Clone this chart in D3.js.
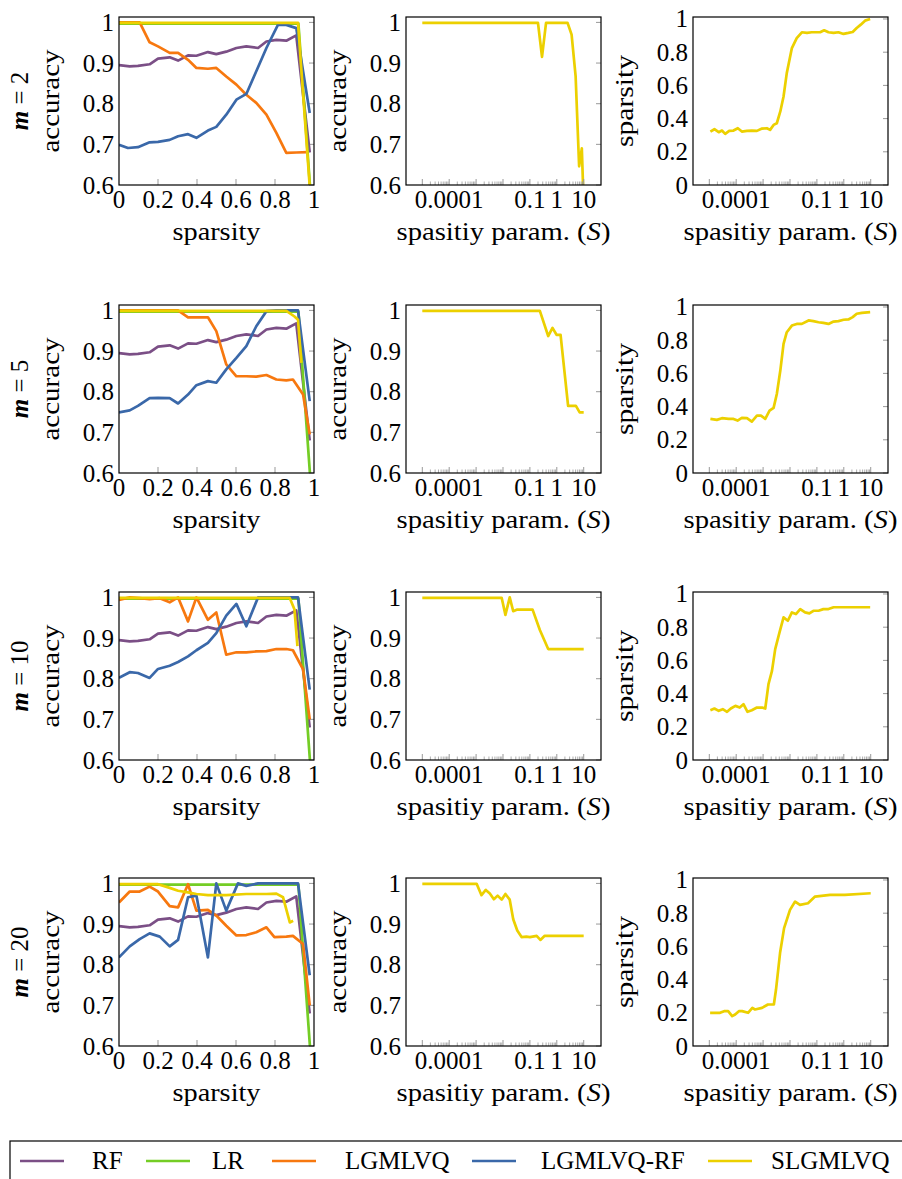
<!DOCTYPE html>
<html>
<head>
<meta charset="utf-8">
<script src="https://cdn.jsdelivr.net/npm/d3@7"></script>
<style>
  body { margin: 0; background: #fff; }
</style>
</head>
<body>
<div id="chart"></div>
<script>
// ---------------- data ----------------
const models = ["RF", "LR", "LGMLVQ", "LGMLVQ-RF", "SLGMLVQ"]
const colors = ["#7b4f86", "#74cd25", "#f7780f", "#3a68a9", "#ecd000"]
const mValues = [2, 5, 10, 20]

const accTicks = [0.6, 0.7, 0.8, 0.9, 1]
const accTickLabels = ["0.6", "0.7", "0.8", "0.9", "1"]
const spTicks = [0, 0.2, 0.4, 0.6, 0.8, 1]
const spTickLabels = ["0", "0.2", "0.4", "0.6", "0.8", "1"]
const sTicks = [0.0001, 0.1, 1, 10]
const sTickLabels = ["0.0001", "0.1", "1", "10"]

// left column: accuracy vs sparsity  (RF and LR identical in every row)
const rfSp  = [0, 0.055, 0.097, 0.157, 0.2, 0.26, 0.303, 0.354, 0.397, 0.456, 0.499, 0.55, 0.602, 0.653, 0.713, 0.756, 0.807, 0.858, 0.909, 0.978]
const rfAcc = [0.895, 0.892, 0.893, 0.897, 0.911, 0.914, 0.906, 0.919, 0.918, 0.927, 0.922, 0.928, 0.937, 0.941, 0.937, 0.953, 0.957, 0.955, 0.968, 0.68]
const lrSp  = [0, 0.92, 0.985]
const lrAcc = [0.997, 0.997, 0.56]

const lgmlvqSp = [
  [0, 0.106, 0.157, 0.2, 0.26, 0.303, 0.354, 0.397, 0.456, 0.499, 0.55, 0.602, 0.653, 0.704, 0.756, 0.807, 0.858, 0.909, 0.969],
  [0, 0.303, 0.354, 0.456, 0.499, 0.55, 0.602, 0.653, 0.704, 0.756, 0.807, 0.858, 0.892, 0.944, 0.978],
  [0, 0.055, 0.106, 0.157, 0.209, 0.26, 0.303, 0.354, 0.397, 0.456, 0.499, 0.55, 0.602, 0.653, 0.704, 0.756, 0.807, 0.858, 0.892, 0.944, 0.978],
  [0, 0.055, 0.106, 0.157, 0.2, 0.26, 0.303, 0.354, 0.397, 0.456, 0.499, 0.55, 0.602, 0.653, 0.704, 0.756, 0.797, 0.858, 0.892, 0.944, 0.978]
]
const lgmlvqAcc = [
  [1.0, 1.0, 0.951, 0.941, 0.925, 0.925, 0.908, 0.888, 0.886, 0.888, 0.867, 0.847, 0.822, 0.802, 0.773, 0.728, 0.679, 0.68, 0.681],
  [1.0, 1.0, 0.983, 0.983, 0.949, 0.867, 0.838, 0.838, 0.837, 0.841, 0.83, 0.828, 0.83, 0.793, 0.695],
  [0.994, 1.0, 0.998, 0.996, 0.998, 0.988, 1.0, 0.941, 1.0, 0.945, 0.963, 0.859, 0.865, 0.865, 0.867, 0.868, 0.873, 0.873, 0.87, 0.823, 0.70],
  [0.953, 0.98, 0.98, 0.992, 0.98, 0.944, 0.941, 0.998, 0.933, 0.935, 0.921, 0.896, 0.872, 0.873, 0.88, 0.892, 0.868, 0.869, 0.871, 0.851, 0.70]
]
const lgmlvqRfSp = [
  [0, 0.046, 0.097, 0.157, 0.2, 0.26, 0.303, 0.354, 0.397, 0.456, 0.499, 0.55, 0.602, 0.653, 0.704, 0.756, 0.815, 0.858, 0.909, 0.978],
  [0, 0.055, 0.097, 0.157, 0.2, 0.26, 0.303, 0.354, 0.397, 0.456, 0.499, 0.55, 0.602, 0.653, 0.704, 0.756, 0.807, 0.918, 0.978],
  [0, 0.055, 0.097, 0.157, 0.2, 0.26, 0.303, 0.354, 0.397, 0.456, 0.499, 0.55, 0.602, 0.653, 0.713, 0.918, 0.978],
  [0, 0.055, 0.106, 0.157, 0.209, 0.26, 0.303, 0.354, 0.397, 0.456, 0.499, 0.55, 0.61, 0.653, 0.713, 0.918, 0.978]
]
const lgmlvqRfAcc = [
  [0.699, 0.691, 0.693, 0.705, 0.706, 0.711, 0.72, 0.725, 0.716, 0.734, 0.743, 0.773, 0.81, 0.824, 0.88, 0.937, 0.994, 0.994, 0.986, 0.777],
  [0.749, 0.754, 0.765, 0.784, 0.785, 0.784, 0.771, 0.793, 0.816, 0.826, 0.822, 0.855, 0.883, 0.912, 0.961, 0.998, 1.0, 1.0, 0.777],
  [0.802, 0.816, 0.814, 0.802, 0.824, 0.832, 0.841, 0.855, 0.87, 0.888, 0.912, 0.955, 0.984, 0.929, 1.0, 1.0, 0.773],
  [0.818, 0.845, 0.863, 0.877, 0.869, 0.845, 0.861, 0.966, 0.97, 0.818, 1.0, 0.933, 1.0, 0.994, 1.0, 1.0, 0.774]
]
const slgmlvqSp = [
  [0, 0.918, 0.985],
  [0, 0.858, 0.9, 0.918, 0.935],
  [0, 0.875, 0.9, 0.915],
  [0, 0.2, 0.26, 0.303, 0.354, 0.397, 0.456, 0.55, 0.653, 0.756, 0.807, 0.841, 0.876, 0.893]
]
const slgmlvqAcc = [
  [0.999, 0.999, 0.55],
  [0.999, 0.999, 0.985, 0.977, 0.871],
  [0.999, 0.999, 0.97, 0.88],
  [0.998, 0.998, 0.989, 0.982, 0.978, 0.974, 0.971, 0.971, 0.974, 0.974, 0.975, 0.966, 0.904, 0.908]
]

// middle column: SLGMLVQ accuracy vs log10(S)
const accLogS = [
  [-5, -0.7, -0.55, -0.4, 0.4, 0.55, 0.7, 0.83, 0.93, 1.0],
  [-5, -0.63, -0.32, -0.16, -0.01, 0.14, 0.42, 0.71, 0.85, 1.0],
  [-5, -2.05, -1.91, -1.75, -1.62, -1.47, -0.9, -0.63, -0.32, 1.0],
  [-5, -2.98, -2.8, -2.64, -2.49, -2.34, -2.2, -2.05, -1.91, -1.75, -1.62, -1.47, -1.31, -1.13, -1.0, -0.75, -0.61, -0.45, 1.0]
]
const accByS = [
  [0.999, 0.999, 0.915, 0.999, 0.999, 0.97, 0.867, 0.646, 0.69, 0.55],
  [0.999, 0.999, 0.937, 0.957, 0.94, 0.94, 0.765, 0.765, 0.749, 0.749],
  [0.999, 0.999, 0.957, 1.0, 0.966, 0.97, 0.97, 0.92, 0.873, 0.873],
  [0.999, 0.999, 0.971, 0.984, 0.975, 0.961, 0.97, 0.96, 0.974, 0.96, 0.912, 0.884, 0.868, 0.869, 0.868, 0.871, 0.861, 0.871, 0.871]
]

// right column: SLGMLVQ sparsity vs log10(S)
const spLogS = [
  [-4.96, -4.81, -4.65, -4.53, -4.41, -4.26, -4.1, -3.94, -3.79, -3.6, -3.42, -3.23, -3.04, -2.86, -2.74, -2.61, -2.49, -2.36, -2.24, -2.12, -1.93, -1.75, -1.56, -1.37, -1.19, -1.0, -0.88, -0.73, -0.57, -0.38, -0.2, -0.01, 0.17, 0.33, 0.48, 0.63, 0.79, 0.98],
  [-4.96, -4.72, -4.53, -4.28, -4.1, -3.95, -3.79, -3.6, -3.42, -3.23, -3.08, -2.92, -2.76, -2.61, -2.49, -2.36, -2.24, -2.12, -1.93, -1.75, -1.56, -1.31, -1.13, -0.94, -0.76, -0.57, -0.38, -0.2, -0.01, 0.17, 0.33, 0.48, 0.67, 0.98],
  [-4.96, -4.81, -4.65, -4.5, -4.34, -4.2, -4.03, -3.87, -3.73, -3.58, -3.42, -3.23, -3.04, -2.92, -2.8, -2.67, -2.55, -2.39, -2.24, -2.08, -1.93, -1.78, -1.62, -1.44, -1.28, -1.13, -0.94, -0.76, -0.57, -0.38, -0.14, 0.98],
  [-4.97, -4.75, -4.6, -4.45, -4.3, -4.15, -4.04, -3.9, -3.78, -3.56, -3.4, -3.3, -3.04, -2.82, -2.6, -2.52, -2.37, -2.22, -2.0, -1.81, -1.63, -1.33, -1.07, -0.51, 0.04, 1.0]
]
const spByS = [
  [0.322, 0.336, 0.318, 0.328, 0.308, 0.326, 0.328, 0.342, 0.322, 0.326, 0.328, 0.326, 0.34, 0.342, 0.332, 0.362, 0.372, 0.443, 0.533, 0.674, 0.825, 0.885, 0.92, 0.916, 0.92, 0.92, 0.92, 0.932, 0.92, 0.916, 0.92, 0.91, 0.916, 0.922, 0.946, 0.966, 0.99, 1.0],
  [0.326, 0.32, 0.33, 0.326, 0.326, 0.316, 0.332, 0.33, 0.31, 0.346, 0.346, 0.326, 0.376, 0.392, 0.476, 0.617, 0.778, 0.848, 0.888, 0.898, 0.898, 0.919, 0.915, 0.908, 0.904, 0.898, 0.912, 0.915, 0.923, 0.925, 0.939, 0.959, 0.965, 0.969],
  [0.30, 0.31, 0.296, 0.306, 0.29, 0.31, 0.326, 0.316, 0.336, 0.29, 0.30, 0.316, 0.316, 0.31, 0.457, 0.537, 0.668, 0.769, 0.859, 0.839, 0.889, 0.879, 0.909, 0.889, 0.883, 0.899, 0.899, 0.909, 0.909, 0.92, 0.92, 0.92],
  [0.2, 0.2, 0.2, 0.21, 0.21, 0.18, 0.19, 0.21, 0.21, 0.2, 0.23, 0.22, 0.23, 0.25, 0.25, 0.34, 0.56, 0.71, 0.82, 0.87, 0.85, 0.86, 0.9, 0.91, 0.91, 0.92]
]

// ---------------- layout ----------------
const W = 902, H = 1179
const colLeft = [119, 406, 693]
const rowTop = [17, 305, 592, 878]
const plotW = 195, plotH = 168
const fontSize = 25
const serif = "'Liberation Serif', 'Times New Roman', 'DejaVu Serif', serif"
const lineW = 2.7

const svg = d3.select("#chart").append("svg")
  .attr("width", W).attr("height", H)
  .attr("font-family", serif)
svg.append("rect").attr("width", W).attr("height", H).attr("fill", "white")

function makePanel(id, left, top, xScale, yScale, yTicks, yLabels) {
  const g = svg.append("g")
  const bottom = top + plotH, right = left + plotW
  g.append("clipPath").attr("id", id)
    .append("rect").attr("x", left).attr("y", top).attr("width", plotW).attr("height", plotH)
  // y ticks on the right side, pointing inward
  yTicks.forEach((t, i) => {
    g.append("line")
      .attr("x1", right - 5).attr("x2", right)
      .attr("y1", yScale(t)).attr("y2", yScale(t))
      .attr("stroke", "#999").attr("stroke-width", 1)
    g.append("text")
      .attr("x", left - 5).attr("y", yScale(t))
      .attr("dy", "0.34em")
      .attr("text-anchor", "end")
      .attr("font-family", serif)
      .attr("font-size", fontSize)
      .text(yLabels[i])
  })
  const lines = g.append("g").attr("clip-path", "url(#" + id + ")")
  return { g: g, lines: lines, left: left, top: top, right: right, bottom: bottom }
}

function drawFrame(p) {
  p.g.append("rect")
    .attr("x", p.left).attr("y", p.top)
    .attr("width", plotW).attr("height", plotH)
    .attr("fill", "none").attr("stroke", "#000").attr("stroke-width", 1.2)
}

function drawSeries(p, xs, ys, xScale, yScale, color) {
  const line = d3.line().x(d => xScale(d[0])).y(d => yScale(d[1]))
  p.lines.append("path")
    .datum(d3.zip(xs, ys))
    .attr("d", line)
    .attr("fill", "none")
    .attr("stroke", color)
    .attr("stroke-width", lineW)
    .attr("stroke-linejoin", "round")
}

function xTitle(p, isParam) {
  const t = p.g.append("text")
    .attr("x", (p.left + p.right) / 2)
    .attr("y", p.bottom + 55)
    .attr("text-anchor", "middle")
    .attr("font-family", serif)
    .attr("font-size", fontSize)
  if (isParam) {
    t.attr("textLength", 214).attr("lengthAdjust", "spacingAndGlyphs")
    t.append("tspan").text("spasitiy param. (")
    t.append("tspan").attr("font-style", "italic").text("S")
    t.append("tspan").text(")")
  } else {
    t.attr("textLength", 88).attr("lengthAdjust", "spacingAndGlyphs")
    t.text("sparsity")
  }
}

function yTitle(p, label) {
  p.g.append("text")
    .attr("transform", "translate(" + (p.left - 60) + "," + ((p.top + p.bottom) / 2) + ") rotate(-90)")
    .attr("text-anchor", "middle")
    .attr("font-family", serif)
    .attr("font-size", fontSize)
    .attr("textLength", label == "accuracy" ? 103 : 92)
    .attr("lengthAdjust", "spacingAndGlyphs")
    .text(label)
}

mValues.forEach((m, r) => {
  const top = rowTop[r], bottom = top + plotH

  // ---- left: accuracy vs sparsity ----
  const x1 = d3.scaleLinear().domain([0, 1]).range([colLeft[0], colLeft[0] + plotW])
  const y1 = d3.scaleLinear().domain([0.6, 1.0133]).range([bottom, top])
  const p1 = makePanel("c" + r + "a", colLeft[0], top, x1, y1, accTicks, accTickLabels)
  spTicks.forEach((t, i) => {
    if (t > 0 && t < 1) {
      p1.g.append("line")
        .attr("x1", x1(t)).attr("x2", x1(t))
        .attr("y1", bottom - 6).attr("y2", bottom)
        .attr("stroke", "#999").attr("stroke-width", 1)
    }
    p1.g.append("text")
      .attr("x", x1(t)).attr("y", bottom + 23)
      .attr("text-anchor", "middle")
      .attr("font-family", serif)
      .attr("font-size", fontSize)
      .text(spTickLabels[i])
  })
  drawSeries(p1, rfSp, rfAcc, x1, y1, colors[0])
  drawSeries(p1, lrSp, lrAcc, x1, y1, colors[1])
  drawSeries(p1, lgmlvqSp[r], lgmlvqAcc[r], x1, y1, colors[2])
  drawSeries(p1, lgmlvqRfSp[r], lgmlvqRfAcc[r], x1, y1, colors[3])
  drawSeries(p1, slgmlvqSp[r], slgmlvqAcc[r], x1, y1, colors[4])
  drawFrame(p1)
  xTitle(p1, false)
  yTitle(p1, "accuracy")
  const ml = p1.g.append("text")
    .attr("transform", "translate(28," + ((top + bottom) / 2) + ") rotate(-90)")
    .attr("text-anchor", "middle")
    .attr("font-family", serif)
    .attr("font-size", fontSize)
  ml.append("tspan").attr("font-weight", "bold").attr("font-style", "italic").text("m")
  ml.append("tspan").text(" = " + m)

  // ---- middle & right: vs sparsity parameter S (log axis) ----
  const sides = [
    { col: 1, xs: accLogS[r], ys: accByS[r], dom: [0.6, 1.0133], ticks: accTicks, labels: accTickLabels, title: "accuracy" },
    { col: 2, xs: spLogS[r], ys: spByS[r], dom: [0, 1.012], ticks: spTicks, labels: spTickLabels, title: "sparsity" }
  ]
  sides.forEach(s => {
    const left = colLeft[s.col]
    const xl = d3.scaleLog().domain([Math.pow(10, -5.606), Math.pow(10, 1.643)]).range([left, left + plotW])
    const yl = d3.scaleLinear().domain(s.dom).range([bottom, top])
    const p = makePanel("c" + r + "s" + s.col, left, top, xl, yl, s.ticks, s.labels)
    for (let e = -5; e <= 1; e++) {
      const major = Math.pow(10, e)
      p.g.append("line")
        .attr("x1", xl(major)).attr("x2", xl(major))
        .attr("y1", bottom - 6).attr("y2", bottom)
        .attr("stroke", "#999").attr("stroke-width", 1)
      if (e < 1) {
        for (let k = 2; k <= 9; k++) {
          p.g.append("line")
            .attr("x1", xl(k * major)).attr("x2", xl(k * major))
            .attr("y1", bottom - 3.5).attr("y2", bottom)
            .attr("stroke", "#999").attr("stroke-width", 0.8)
        }
      }
    }
    sTicks.forEach((t, i) => {
      p.g.append("text")
        .attr("x", xl(t)).attr("y", bottom + 23)
        .attr("text-anchor", "middle")
        .attr("font-family", serif)
        .attr("font-size", fontSize)
        .text(sTickLabels[i])
    })
    drawSeries(p, s.xs.map(e => Math.pow(10, e)), s.ys, xl, yl, colors[4])
    drawFrame(p)
    xTitle(p, true)
    yTitle(p, s.title)
  })
})

// ---------------- legend ----------------
const legendBox = svg.append("g")
legendBox.append("rect")
  .attr("x", 10).attr("y", 1141)
  .attr("width", 900).attr("height", 60)
  .attr("fill", "none").attr("stroke", "#000").attr("stroke-width", 1.2)
const legendLineX = [20, 146, 272, 472, 708]
const legendTextX = [92, 212, 345, 541, 771]
models.forEach((name, i) => {
  legendBox.append("line")
    .attr("x1", legendLineX[i]).attr("x2", legendLineX[i] + 44)
    .attr("y1", 1161).attr("y2", 1161)
    .attr("stroke", colors[i]).attr("stroke-width", lineW)
  legendBox.append("text")
    .attr("x", legendTextX[i]).attr("y", 1169)
    .attr("font-family", serif)
    .attr("font-size", fontSize)
    .text(name)
})
</script>
</body>
</html>
